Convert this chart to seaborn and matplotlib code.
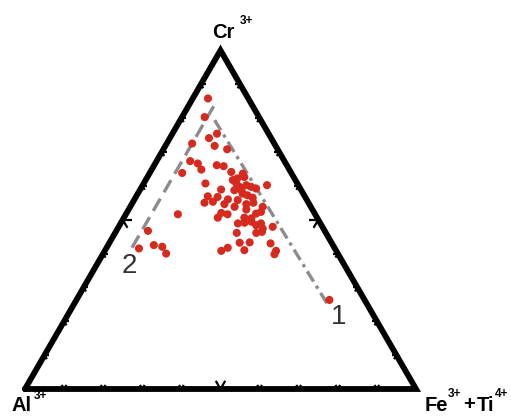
import numpy as np
import pandas as pd
import matplotlib
matplotlib.use("Agg")
import matplotlib.pyplot as plt
import seaborn as sns

# spinel compositions (percent of Cr3+ and Fe3+ + Ti4+, Al3+ is the rest)
cr = [85.8, 80.3, 75.4, 74.1, 71.8, 70.8, 67.3, 66.6, 64.8, 63.8,
      66.1, 65.8, 64.1, 63.6, 62.6, 60.7, 61.7, 60.7, 59.7, 60.2,
      59.7, 59.2, 60.2, 58.9, 58.7, 57.7, 57.2, 56.9, 56.7, 56.0,
      55.8, 56.5, 55.0, 55.3, 54.6, 53.8, 54.6, 55.0, 53.8, 53.0,
      52.3, 52.0, 51.6, 50.6, 51.6, 50.6, 50.4, 51.8, 48.9, 49.1,
      49.4, 48.4, 48.9, 47.4, 46.1, 47.9, 46.1, 46.7, 43.2, 43.3,
      43.0, 41.7, 40.8, 41.0, 40.8, 39.8, 41.5, 42.5, 42.0, 40.0,
      26.3, 72.5, 58.7, 46.4, 62.2]
fe_ti = [3.9, 5.8, 11.4, 10.0, 12.6, 16.3, 8.6, 10.9, 12.7, 8.3,
         16.0, 17.9, 20.7, 23.9, 24.8, 15.8, 22.3, 23.7, 25.0, 26.5,
         28.0, 29.5, 31.8, 20.7, 24.2, 26.8, 28.3, 18.3, 20.9, 23.9,
         26.5, 30.0, 18.4, 20.4, 23.7, 26.7, 29.3, 30.9, 33.9, 30.1,
         34.2, 24.2, 26.0, 24.0, 13.3, 30.8, 32.7, 33.2, 30.0, 31.6,
         33.2, 34.9, 35.9, 37.1, 36.1, 39.4, 31.1, 8.1, 33.3, 35.8,
         41.3, 31.0, 29.8, 35.6, 43.8, 43.9, 8.4, 11.7, 14.1, 16.1,
         64.7, 6.5, 26.0, 37.4, 23.2]

# trend lines (end points): 1 = dash-dot, 2 = dashed
trend1_cr = [79.4, 24.2]
trend1_fe = [8.8, 65.7]
trend2_cr = [83.5, 41.0]
trend2_fe = [6.5, 6.5]


def to_xy(c, f):
    c = np.asarray(c, dtype=float)
    f = np.asarray(f, dtype=float)
    return f + c / 2.0, c * np.sqrt(3) / 2.0


sns.set_theme(style="white")
plt.rcParams['font.family'] = ['Liberation Sans', 'DejaVu Sans']

fig = plt.figure(figsize=(5.11, 4.17), dpi=100)
ax = fig.add_axes([0, 0, 1, 1])
ax.set_axis_off()

s = 3.91  # pixels per unit
ax.set_xlim(-25 / s, (511 - 25) / s)
ax.set_ylim(-(417 - 389) / s, 389 / s)

# triangle frame
tx, ty = to_xy([0, 0, 100, 0], [0, 100, 0, 0])
ax.plot(tx, ty, color='black', lw=4.2, solid_joinstyle='miter', zorder=3)

# ticks every 10 %, bigger chevron at 50 %
h = np.sqrt(3) / 2
edges = [
    ((0, 0), (100, 0), [(0.5, h), (-0.5, h)]),
    ((0, 0), (50, 100 * h), [(1, 0), (0.5, -h)]),
    ((100, 0), (50, 100 * h), [(-1, 0), (-0.5, -h)]),
]
for p0, p1, dirs in edges:
    for k in range(1, 10):
        t = k / 10
        px = p0[0] + t * (p1[0] - p0[0])
        py = p0[1] + t * (p1[1] - p0[1])
        ln = 2.4 if k == 5 else 1.2
        for dx, dy in dirs:
            ax.plot([px, px + ln * dx], [py, py + ln * dy], color='black',
                    lw=1.6, solid_capstyle='butt', zorder=3)

# trend lines
x1, y1 = to_xy(trend1_cr, trend1_fe)
x2, y2 = to_xy(trend2_cr, trend2_fe)
sns.lineplot(x=x1, y=y1, sort=False, estimator=None, ax=ax, color='#8c8c8c',
             lw=2.4, linestyle=(0, (3.6, 1.5, 1, 1.5)), zorder=2)
sns.lineplot(x=x2, y=y2, sort=False, estimator=None, ax=ax, color='#8c8c8c',
             lw=2.4, linestyle=(0, (4.2, 2.2)), zorder=2)

# data points
px, py = to_xy(cr, fe_ti)
df = pd.DataFrame({'x': px, 'y': py})
sns.scatterplot(data=df, x='x', y='y', ax=ax, color='#d62a1f', s=34,
                edgecolor='none', linewidth=0, zorder=4, legend=False)


def pix(xp, yp):
    return (xp - 25) / s, (389 - yp) / s


# vertex labels (base text + raised charge)
lab = dict(fontsize=14.5, fontweight='bold', color='black', ha='left', va='baseline')
sup = dict(fontsize=8.5, fontweight='bold', color='black', ha='left', va='baseline')
ax.text(*pix(212, 38), 'Cr', **lab)
ax.text(*pix(240, 24), '3+', **sup)
ax.text(*pix(12, 411), 'Al', **lab)
ax.text(*pix(34, 399), '3+', **sup)
ax.text(*pix(425, 411), 'Fe', **lab)
ax.text(*pix(448, 397), '3+', **sup)
ax.text(*pix(463, 410), '+', **lab)
ax.text(*pix(477, 411), 'Ti', **lab)
ax.text(*pix(495, 397), '4+', **sup)

# line numbers
ax.text(*pix(122, 273), '2', ha='left', va='baseline', fontsize=20, color='#333333')
ax.text(*pix(331, 324), '1', ha='left', va='baseline', fontsize=20, color='#333333')

fig.savefig('out.png', dpi=100)
